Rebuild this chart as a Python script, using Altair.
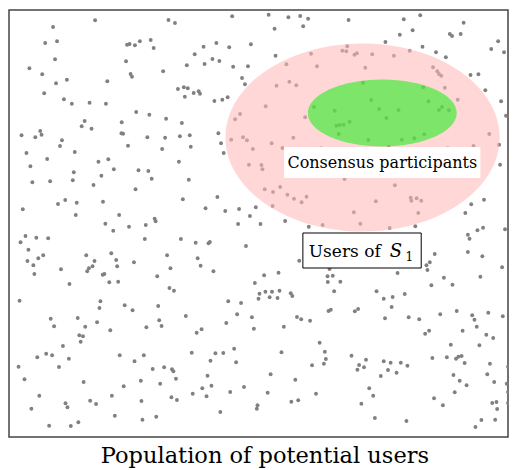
import altair as alt
import pandas as pd

# dot positions (pixel-like units, y grows downward)
xs = [96.3,53.7,45.7,57.7,128.7,131.3,136.7,55.7,127.7,29.7,42.7,132.3,133.7,67.7,56.7,108.7,44.7,64.7,72.7,90.7,107.3,138,85.7,82.7,92.7,123.3,123,124.7,21.7,40.7,42,35.7,62.7,60.7,129.7,75.7,26.7,
      235.3,170.7,177.3,141.7,152.7,155.7,219.3,206.3,232.3,254.3,197.3,215.3,222.3,189.3,207.3,236.3,251.3,165.3,245.3,248.3,180.3,186.3,190.3,187.3,196.3,201.3,202.7,217.3,225.3,230.7,151.3,168.3,184.3,238.3,243.3,149.3,167.3,182.3,192.3,221.3,224,193.3,164.3,234.3,246.3,250.3,256.3,226.7,
      272.3,292.3,304.3,312.3,278.3,307.3,353.3,390.7,279.3,315.3,352,347,351,359.3,361.7,377.3,290.3,321.3,370.3,293.3,300.3,280.3,368,269.3,318.3,339.3,376.3,384.3,391.7,309.3,341,344.3,348.3,354.3,343.3,373.3,297.3,275.3,286.3,325.3,
      426,409.3,470,418.3,405.3,456,458.3,467,428.3,505,498,511,415.3,442,452,399.3,439,443.3,445,447.3,477,485,451,429,492,434.3,464,508,448,445,455,404,513,430,420,407.3,394,496,506,480,454,
      47.7,30.7,99.7,109.7,115.3,74.7,32.7,50.7,73.7,102.7,94.7,137.3,66,58.7,77.7,104.3,23,76.7,120.7,106.7,114.7,130.7,25.7,20.7,36.7,48.7,28.7,43.7,38.7,27.7,33.7,34.7,61.7,87.3,95.7,90,88.3,93.7,112.7,117.7,118.7,135.7,104,105.7,70.3,110.7,119.7,
      181.3,140.3,150.3,153.7,191.3,185.3,220.3,208.3,228.3,242.3,259.3,253.3,241.3,264,252.3,156.7,157.7,147.7,146.7,183.3,198.3,211.3,212.7,249.3,169.3,200.3,203.3,172.7,216.3,159.3,171.7,176.3,258.3,263,
      265,266,268.3,276.7,284,291.3,298,305.7,310.7,276.3,349.3,381,358.7,365.3,327,313,289,303.3,334,332,337.3,332.3,345,267.7,282.3,269,275.7,283.3,294.7,338.7,381.7,
      400.3,416.3,417,422.3,427,424,421,395,507,477.7,490.7,471.7,474.3,476,484,489.7,512,474.3,489,509,440.7,435.7,432.3,433.3,403,450,487,437.3,458.7,410.3,
      389,398,397,390.3,414.3,425,446.3,463,478.7,481,495,509.7,483.3,431,435,469,493,500,457,486,389,396,393.3,402,406.3,413,438.3,453,462.3,464.7,468,471,496.7,515,459.7,466,473,494,501,513.7,515,461,440,449,499,503.3,504,515,412,488,502,482,
      262,273.3,281.3,296.3,333,335.3,359.7,363,301,305.3,314.3,287.7,324,285.3,329.3,330.3,328.3,316.3,356.3,371,364,362.3,369,386,274.3,299.3,271.3,320.3,374.3,378.3,295.3,302.3,366.3,380,
      160.3,148.3,161.3,163.7,188.3,199.3,204.3,231.3,244.3,240.3,229.3,255.3,257.3,145.7,194.3,218.3,226.3,237.3,213.3,239.3,154.7,166.3,174.3,175.7,142.7,162.3,178.3,210.3,214.3,205,195.3,209.3,233.3,247.3,173.7,179.3,143.3,261,260.3,223.3,144.3,158.3,
      19.7,101.7,100.7,126.3,134.3,51.3,54.7,78.7,86.3,98.3,111.7,80.3,84,81.7,63.7,46.7,52.7,37.7,69.7,121.3,136.3,18.7,59.7,24.7,84.7,125.3,39.7,113.3,91.3,97.3,66.3,68.3,31.7,116.3,79.3,49.7,71.7]
ys = [20.3,27,43,41.3,44.7,44,45.3,59.3,61.3,68.3,74.3,74,76.7,79.7,83.3,81.3,93.3,99.3,103.7,102.7,103.7,112,121,126.3,128.7,122.3,133.3,133.7,135.3,131,134.7,137.3,140.3,146,145.7,152,153,
      16.3,20,23,41.3,40,48,43,46.7,47.3,44.3,54.3,59,61,65.3,64,66.7,66.3,71.3,78,84.3,89,87.3,88.3,96.7,93,91.3,93.7,101,99.7,97.3,114.7,118.7,123,119.3,114,137.3,137.7,136.3,135.3,133.3,143.3,146.7,149,139.7,137.3,140.3,149,153,
      14.7,17.3,16,18.7,28.7,26.3,20,42,55.7,53.7,46.3,50.7,51.3,54.7,53.3,54.3,64.3,66.3,67.7,81.7,85.3,85.7,82.7,106.3,107,110.7,100,109,118,117.3,125.7,125,124.7,121.7,134,140,137.7,143.3,148,148.3,
      15.3,19.3,22.7,30.3,34.7,34,36,34,46.7,41.3,49,52.3,50.7,52.3,57.3,55.7,67.3,71.3,74,75.7,75,74.3,87.7,87.3,90.3,101.3,99.7,101.3,107,110,110.3,110,115.7,134.3,138.3,139.7,146.7,134,144.7,146,148.3,
      159,166.3,161.7,159.3,169.3,172.3,182.3,181.3,180.3,175.7,185,189.3,200,204,202.7,201.7,209.3,215,215,223.7,230.7,226.7,236,242.3,237.7,238.3,249.7,255.3,258.3,261,265.3,274,269.3,255.3,261,268.3,271.3,266.3,253.3,260,266.3,262.3,274.7,274,284,282.3,281.7,
      161.7,170.3,171,178.7,179.7,199.3,197,208.3,211,209,207.3,216,224,224,164.7,218.7,221.3,225,239,239,242.7,243.3,242,246,255.3,258.3,265.7,268.3,271.3,276.3,288,290.7,283,293.7,
      165,169.3,189.3,192,187,194.7,198.7,202.3,196.7,206,179,201.3,212.3,223.7,225,226.7,221,260.7,269,276.3,275.7,282,281.7,275.3,272.7,291.7,291.7,290.7,293.3,291.3,291.3,
      185.3,197.7,200.7,198.3,200.7,213,226.3,228,164.7,204.3,199.7,213,234.7,238.7,230.3,227.7,229.3,252,256.3,267.3,254,262.3,265.3,270,273,277.7,276.7,285.3,284.7,294,
      298.7,297,307,318.3,317.3,319.3,314.3,311,315.3,319.7,312.7,316.3,326.7,333.7,330.7,330.7,334.7,338,344.7,345.3,361.3,362.7,370,372.7,362.7,365.7,358,357.3,358.7,356.7,356,363,363.7,366.7,375,380.7,385.3,374.3,382,383.7,392,392.3,398.3,405.3,403,402,409,403,421,420,419.7,427,
      298.7,297.3,298,296,311,309.7,311.3,309,317,319.3,320.7,326.7,342.7,352.3,351.7,359,363.7,365.3,355.7,359.7,365,369.7,367.3,376,374.3,379.7,392.7,393.7,388.3,395.7,401.7,400.3,403.7,418,
      306,327.3,320.3,326,316,332.7,329.3,301.3,303,314.3,323,317.3,328.7,355.3,352.7,353.3,353,348.7,360.7,362.3,369,367.3,369.3,371.3,380.7,383.7,378.7,375.7,385.7,388.3,393.7,396.3,392,387,397.3,400,401,405.3,408.7,412,419.7,416.7,
      300.7,301.3,308,305.3,310.3,318.7,326.3,318,326.7,322.3,330.3,335.3,336.3,341.7,346,353.7,355.3,357.3,358.7,355.3,361.3,366.7,367,379.3,382,386.3,395.7,395.7,400.7,404,403.3,407.3,408.7,415.7,422.3,425.7,426]

# ellipses: centre x, centre y, half width, half height
ell_cx = [367.5, 387.5]
ell_cy = [137.5, 113]
ell_rx = [139, 75.5]
ell_ry = [94, 33.5]

title_text = "Population of potential users"
label_consensus = "Consensus participants"

X0, X1, Y0, Y1 = 9, 515, 10, 437
W = 499                      # plot width that fits the 517px page without overflow
H = Y1 - Y0
KX = W / (X1 - X0)
SERIF = "DejaVu Serif"

xsc = alt.Scale(domain=[X0, X1], nice=False, zero=False)
ysc = alt.Scale(domain=[Y1, Y0], nice=False, zero=False)


def enc(**kw):
    out = {}
    for k, v in kw.items():
        if k == "x":
            out[k] = alt.X(v, type="quantitative", scale=xsc, axis=None)
        elif k == "x2":
            out[k] = alt.X2(v)
        elif k == "y":
            out[k] = alt.Y(v, type="quantitative", scale=ysc, axis=None)
        elif k == "y2":
            out[k] = alt.Y2(v)
    return out


pts = pd.DataFrame({"x": xs, "y": ys})
points = alt.Chart(pts).mark_circle(size=15, color="#808080", opacity=1).encode(**enc(x="x", y="y"))


def ellipse_layer(i, color, op):
    rxp = ell_rx[i] * KX
    ratio = ell_ry[i] / rxp
    path = f"M -1 0 A 1 {ratio:.4f} 0 1 0 1 0 A 1 {ratio:.4f} 0 1 0 -1 0 Z"
    df = pd.DataFrame({"x": [ell_cx[i]], "y": [ell_cy[i]]})
    return alt.Chart(df).mark_point(
        shape=path, size=(2 * rxp) ** 2, filled=True, fill=color,
        fillOpacity=op, strokeWidth=0, opacity=1
    ).encode(**enc(x="x", y="y"))


pink = ellipse_layer(0, "#ffb9b9", 0.57)
green = ellipse_layer(1, "#10f010", 0.55)

box1 = alt.Chart(pd.DataFrame({"a": [288], "b": [487], "c": [147], "d": [178]})).mark_rect(
    fill="white").encode(**enc(x="a", x2="b", y="c", y2="d"))
txt1 = alt.Chart(pd.DataFrame({"x": [387.5], "y": [162.5], "t": [label_consensus]})).mark_text(
    font=SERIF, fontSize=16, color="black", baseline="middle").encode(text="t:N", **enc(x="x", y="y"))

box2 = alt.Chart(pd.DataFrame({"a": [307], "b": [427], "c": [233], "d": [268]})).mark_rect(
    fill="white", stroke="black", strokeWidth=1).encode(**enc(x="a", x2="b", y="c", y2="d"))
txt2a = alt.Chart(pd.DataFrame({"x": [313], "y": [257], "t": ["Users of"]})).mark_text(
    font=SERIF, fontSize=17, color="black", align="left", baseline="alphabetic").encode(text="t:N", **enc(x="x", y="y"))
txt2b = alt.Chart(pd.DataFrame({"x": [395], "y": [257], "t": ["S"]})).mark_text(
    font=SERIF, fontSize=18, fontStyle="italic", color="black", align="left", baseline="alphabetic").encode(text="t:N", **enc(x="x", y="y"))
txt2c = alt.Chart(pd.DataFrame({"x": [411], "y": [261], "t": ["1"]})).mark_text(
    font=SERIF, fontSize=12, color="black", align="left", baseline="alphabetic").encode(text="t:N", **enc(x="x", y="y"))

title = alt.Chart(pd.DataFrame({"x": [268.5], "y": [463], "t": [title_text]})).mark_text(
    font=SERIF, fontSize=22.5, color="black", baseline="alphabetic").encode(text="t:N", **enc(x="x", y="y"))

chart = alt.layer(points, pink, green, box1, txt1, box2, txt2a, txt2b, txt2c, title).properties(
    width=W, height=H, autosize=alt.AutoSizeParams(type="none"),
    padding={"left": 1, "top": 2, "right": 1, "bottom": 33}
).configure_view(stroke="#444444", strokeWidth=1.5)

chart.save("out.html", embed_options={"renderer": "svg", "actions": False})
